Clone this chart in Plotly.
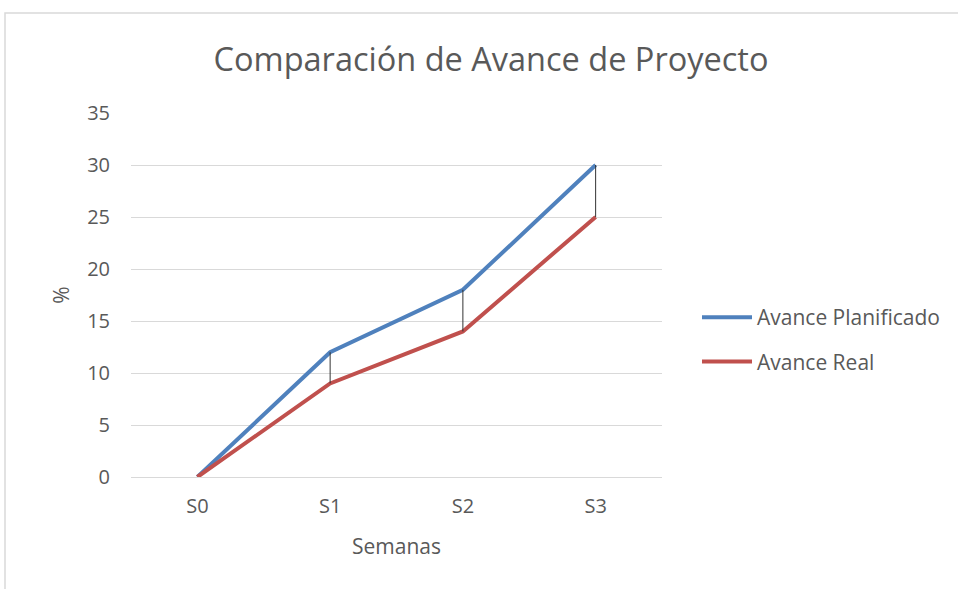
import plotly.graph_objects as go

semanas = ["S0", "S1", "S2", "S3"]
avance_planificado = [0, 12, 18, 30]
avance_real = [0, 9, 14, 25]
y_ticks = [0, 5, 10, 15, 20, 25, 30, 35]

W, H = 958, 589
L, R, T, B = 131, 296, 113, 112
pw, ph = W - L - R, H - T - B

font_fam = "'Open Sans', sans-serif"
txt = "#595959"
grid = "#d9d9d9"

fig = go.Figure()

fig.add_trace(go.Scatter(x=semanas, y=avance_planificado, mode="lines", name="Avance Planificado",
                         line=dict(color="#4F81BD", width=4), legendgroup="a"))
fig.add_trace(go.Scatter(x=semanas, y=avance_real, mode="lines", name="Avance Real",
                         line=dict(color="#C0504D", width=4), legendgroup="b"))

# drop lines between series
dx, dy = [], []
for s, p, r in zip(semanas, avance_planificado, avance_real):
    if p != r:
        dx += [s, s, None]
        dy += [p, r, None]
fig.add_trace(go.Scatter(x=dx, y=dy, mode="lines", line=dict(color="#333333", width=1),
                         showlegend=False, hoverinfo="skip"))

# chart border
fig.add_shape(type="rect", xref="paper", yref="paper",
              x0=(5 - L) / pw, x1=(W + 10 - L) / pw,
              y0=(T + ph - (H + 10)) / ph, y1=(T + ph - 13) / ph,
              line=dict(color="#d9d9d9", width=1.5), fillcolor="rgba(0,0,0,0)", layer="below")

fig.update_layout(
    width=W, height=H,
    margin=dict(l=L, r=R, t=T, b=B),
    paper_bgcolor="white", plot_bgcolor="white",
    font=dict(family=font_fam, color=txt, size=20),
    title=dict(text="Comparación de Avance de Proyecto", x=491 / W, xanchor="center",
               y=1 - 60 / H, yanchor="middle", font=dict(size=32.5, color=txt, family=font_fam)),
    xaxis=dict(type="category", categoryorder="array", categoryarray=semanas,
               range=[-0.5, 3.5], showgrid=False, zeroline=False,
               showline=False, ticks="", ticklabelstandoff=15,
               title=dict(text="Semanas", standoff=21, font=dict(size=21)),
               tickfont=dict(size=20)),
    yaxis=dict(range=[0, 35], tickvals=y_ticks, showgrid=True, gridcolor=grid, gridwidth=1,
               zeroline=True, zerolinecolor=grid, zerolinewidth=1, showline=False, ticks="",
               ticklabelstandoff=20,
               title=dict(text="%", standoff=11, font=dict(size=21)),
               tickfont=dict(size=20)),
    legend=dict(x=(697 - L) / pw, y=(T + ph - 318 + 21) / ph, xanchor="left", yanchor="top",
                font=dict(size=21, color=txt), traceorder="grouped", tracegroupgap=14,
                itemwidth=50, bgcolor="rgba(0,0,0,0)"),
    showlegend=True,
)

fig.write_html("out.html", config={"displayModeBar": False},
               post_script="document.body.style.margin='0';")
